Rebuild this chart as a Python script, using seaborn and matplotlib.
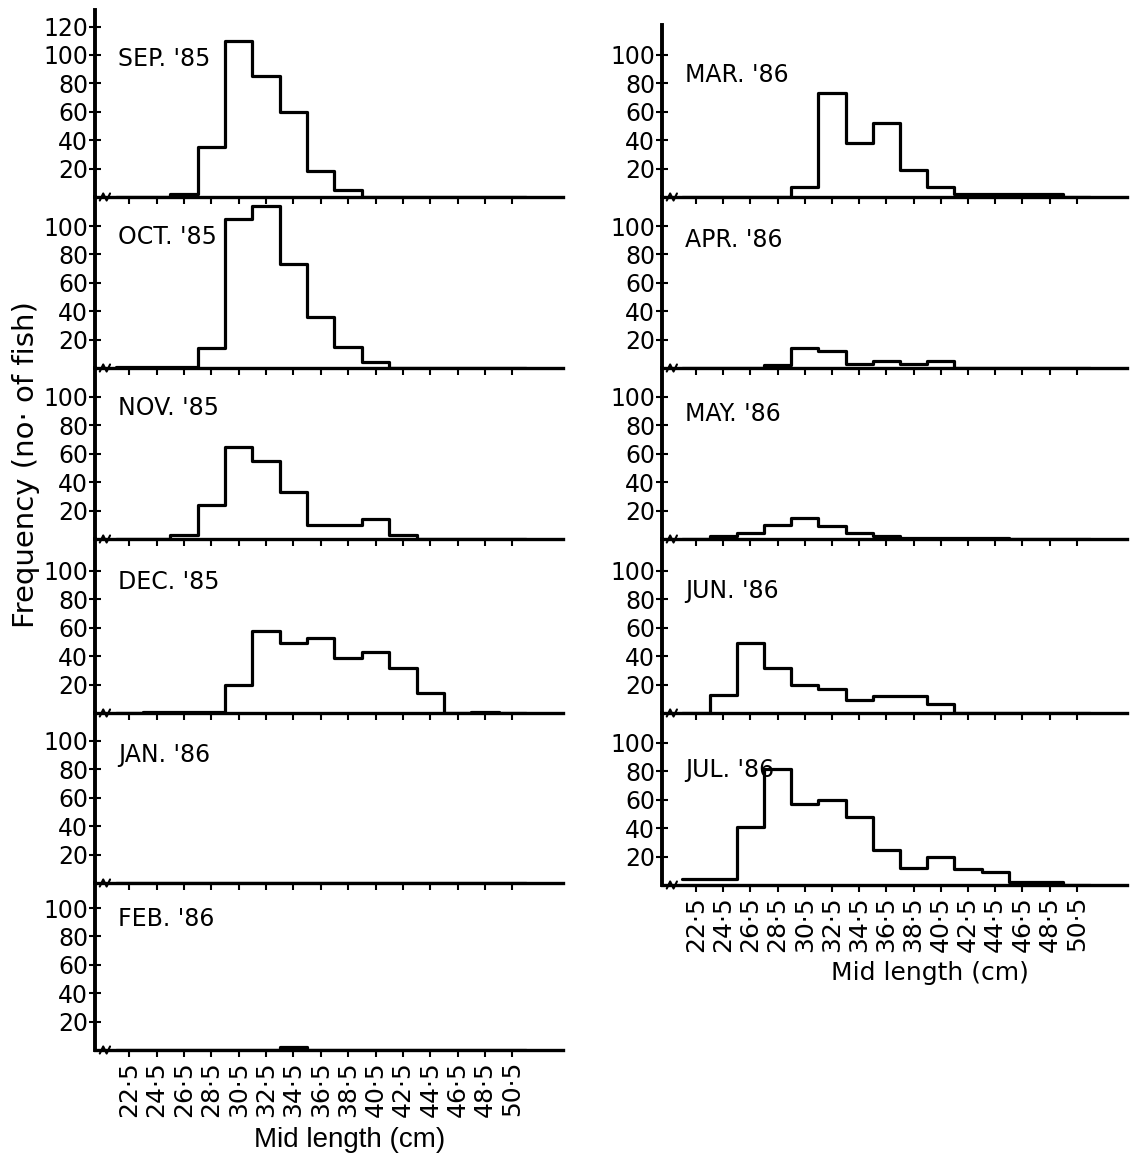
import matplotlib
matplotlib.use("Agg")
import matplotlib.pyplot as plt
import seaborn as sns

# mid length of each 2 cm class (cm)
mid_length = [22.5, 24.5, 26.5, 28.5, 30.5, 32.5, 34.5, 36.5,
              38.5, 40.5, 42.5, 44.5, 46.5, 48.5, 50.5]
tick_labels = ['22·5', '24·5', '26·5', '28·5', '30·5', '32·5', '34·5', '36·5',
               '38·5', '40·5', '42·5', '44·5', '46·5', '48·5', '50·5']

# frequency (no. of fish) per class
sep85 = [0, 0, 2, 35, 110, 85, 60, 18, 5, 0, 0, 0, 0, 0, 0]
oct85 = [1, 1, 1, 14, 105, 114, 73, 36, 15, 4, 0, 0, 0, 0, 0]
nov85 = [0, 0, 3, 24, 65, 55, 33, 10, 10, 14, 3, 0, 0, 0, 0]
dec85 = [0, 1, 1, 1, 20, 58, 49, 53, 39, 43, 32, 14, 0, 1, 0]
jan86 = [0, 0, 0, 0, 0, 0, 0, 0, 0, 0, 0, 0, 0, 0, 0]
feb86 = [0, 0, 0, 0, 0, 0, 2, 0, 0, 0, 0, 0, 0, 0, 0]
mar86 = [0, 0, 0, 0, 7, 73, 38, 52, 19, 7, 2, 2, 2, 2, 0]
apr86 = [0, 0, 0, 2, 14, 12, 3, 5, 3, 5, 0, 0, 0, 0, 0]
may86 = [0, 2, 4, 10, 15, 9, 4, 2, 1, 1, 1, 1, 0, 0, 0]
jun86 = [0, 13, 49, 32, 20, 17, 9, 12, 12, 6, 0, 0, 0, 0, 0]
jul86 = [4, 4, 41, 82, 57, 60, 48, 25, 12, 20, 11, 9, 2, 2, 0]

left_months = ["SEP. '85", "OCT. '85", "NOV. '85", "DEC. '85", "JAN. '86", "FEB. '86"]
left_counts = [sep85, oct85, nov85, dec85, jan86, feb86]
right_months = ["MAR. '86", "APR. '86", "MAY. '86", "JUN. '86", "JUL. '86"]
right_counts = [mar86, apr86, may86, jun86, jul86]

bin_edges = [m - 1 for m in mid_length] + [mid_length[-1] + 1]

sns.set_style("ticks")
plt.rcParams['font.family'] = ['DejaVu Sans']
plt.rcParams['text.color'] = 'black'
plt.rcParams['axes.edgecolor'] = 'black'
plt.rcParams['xtick.color'] = 'black'
plt.rcParams['ytick.color'] = 'black'

W, H = 1130, 1167
fig = plt.figure(figsize=(W / 100, H / 100), dpi=100)

PX_PER_UNIT = 1.42   # vertical pixels per fish
XLIM = (20, 54.2)


def draw_panel(rect_px, counts, month, bottom, label_y):
    x0, x1, ytop, ybot = rect_px
    ax = fig.add_axes([x0 / W, 1 - ybot / H, (x1 - x0) / W, (ybot - ytop) / H])
    sns.histplot(x=mid_length, weights=counts, bins=bin_edges, element='step',
                 fill=False, color='black', linewidth=2.3, ax=ax)
    ymax = (ybot - ytop) / PX_PER_UNIT
    ax.set_xlim(*XLIM)
    ax.set_ylim(0, ymax)
    ax.set_yticks([v for v in [20, 40, 60, 80, 100, 120] if v < ymax - 5])
    ax.set_xticks(mid_length)
    ax.set_ylabel('')
    ax.set_xlabel('')
    ax.patch.set_alpha(0)
    sns.despine(ax=ax)
    ax.spines['left'].set_linewidth(2.8)
    ax.spines['bottom'].set_linewidth(2.4)
    ax.tick_params(axis='y', direction='inout', length=8, width=1.5,
                   labelsize=17, pad=1)
    ax.tick_params(axis='x', direction='out', length=5, width=1.5,
                   labelsize=18, pad=3, labelbottom=bottom)
    if bottom:
        ax.set_xticklabels(tick_labels, rotation=90)
    # little axis break near the origin
    ax.plot([20.35, 20.6, 20.85, 21.1], [-2.5, 2.5, -2.5, 2.5], color='black',
            linewidth=1.5, clip_on=False)
    ax.text(21.7, label_y, month, fontsize=17, va='center', ha='left')
    return ax


left_rows = [10, 197, 368, 539, 713, 883, 1050]
left_label_y = [97, 92, 92, 92, 90, 92]
for i, (month, counts) in enumerate(zip(left_months, left_counts)):
    draw_panel((95, 563, left_rows[i], left_rows[i + 1]), counts, month,
               i == len(left_months) - 1, left_label_y[i])

right_rows = [25, 197, 368, 539, 713, 885]
right_label_y = [86, 90, 88, 86, 81]
for i, (month, counts) in enumerate(zip(right_months, right_counts)):
    draw_panel((662, 1127, right_rows[i], right_rows[i + 1]), counts, month,
               i == len(right_months) - 1, right_label_y[i])

fig.text(26 / W, 1 - 465 / H, 'Frequency (no· of fish)', rotation=90,
         fontsize=21, ha='center', va='center')
fig.text(350 / W, 1 - 1140 / H, 'Mid length (cm)', fontsize=20,
         ha='center', va='center', family='Liberation Sans')
fig.text(930 / W, 1 - 973 / H, 'Mid length (cm)', fontsize=18,
         ha='center', va='center')

fig.savefig('out.png', dpi=100)
